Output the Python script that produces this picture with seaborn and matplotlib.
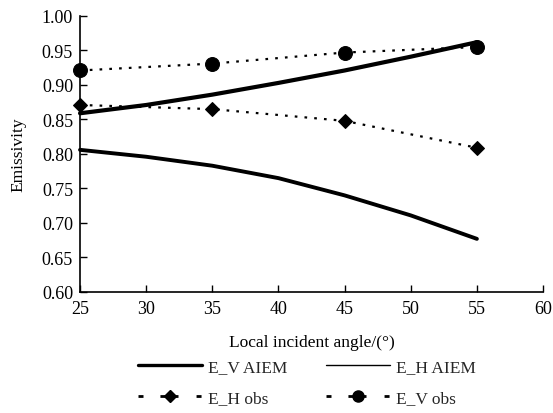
import numpy as np
import pandas as pd
import seaborn as sns
import matplotlib
matplotlib.use("Agg")
import matplotlib.pyplot as plt
from matplotlib.lines import Line2D

# ---- data ----
angle_model = [25, 30, 35, 40, 45, 50, 55]
ev_aiem = [0.859, 0.871, 0.886, 0.903, 0.921, 0.941, 0.962]
eh_aiem = [0.806, 0.796, 0.783, 0.765, 0.740, 0.711, 0.677]
angle_obs = [25, 35, 45, 55]
eh_obs = [0.871, 0.865, 0.848, 0.809]
ev_obs = [0.921, 0.931, 0.947, 0.955]
x_ticks = [25, 30, 35, 40, 45, 50, 55, 60]
y_ticks = [0.60, 0.65, 0.70, 0.75, 0.80, 0.85, 0.90, 0.95, 1.00]
labels = ["E_V AIEM", "E_H AIEM", "E_H obs", "E_V obs"]

sns.set_theme(style="ticks")
plt.rcParams['font.family'] = ['Liberation Serif', 'DejaVu Serif']

fig = plt.figure(figsize=(5.53, 4.14), dpi=100)
ax = fig.add_axes([0.1447, 0.2923, 0.8373, 0.6667])

df_m = pd.DataFrame({"angle": angle_model, "ev": ev_aiem, "eh": eh_aiem})
df_o = pd.DataFrame({"angle": angle_obs, "eh": eh_obs, "ev": ev_obs})

sns.lineplot(data=df_m, x="angle", y="ev", ax=ax, color="black", lw=3.0,
             solid_capstyle="round")
sns.lineplot(data=df_m, x="angle", y="eh", ax=ax, color="black", lw=2.8,
             solid_capstyle="round")
sns.lineplot(data=df_o, x="angle", y="eh", ax=ax, color="black", lw=1.6,
             linestyle=(0, (1.2, 3.2)), marker="D", markersize=7.5,
             markeredgecolor="black", markerfacecolor="black")
sns.lineplot(data=df_o, x="angle", y="ev", ax=ax, color="black", lw=1.6,
             linestyle=(0, (1.2, 3.2)), marker="o", markersize=10,
             markeredgecolor="black", markerfacecolor="black")

ax.set_xlim(25, 60)
ax.set_ylim(0.60, 1.00)
ax.set_xticks(x_ticks)
ax.set_yticks(y_ticks)
ax.set_xticklabels([str(t) for t in x_ticks])
ax.set_yticklabels([f"{t:.2f}" for t in y_ticks])
ax.tick_params(direction="in", length=5, width=1.0, labelsize=13, colors="black")
ax.tick_params(axis="x", pad=6)
ax.tick_params(axis="y", pad=5)
ax.set_xlabel("Local incident angle/(°)", fontsize=12.5, labelpad=12, color="black")
ax.set_ylabel("Emissivity", fontsize=12.5, labelpad=11, color="black")
sns.despine(ax=ax)
for s in ["left", "bottom"]:
    ax.spines[s].set_linewidth(1.2)
    ax.spines[s].set_color("black")
for ln in ax.lines:
    ln.set_clip_on(False)

obs_dash = (0, (1.8, 6.1, 6.5, 6.5))
h_ev = Line2D([], [], color="black", lw=2.4)
h_eh = Line2D([], [], color="black", lw=1.0)
h_eho = Line2D([], [], color="black", lw=2.0, linestyle=obs_dash, marker="D", markersize=6.5)
h_evo = Line2D([], [], color="black", lw=2.0, linestyle=obs_dash, marker="o", markersize=8)
# matplotlib fills legend columns first; order so rows read as in the reference
fig.legend([h_ev, h_eho, h_eh, h_evo], [labels[0], labels[2], labels[1], labels[3]],
           loc="upper left", bbox_to_anchor=(0.237, 0.147),
           ncol=2, frameon=False, fontsize=12.5, handlelength=3.7, handletextpad=0.35,
           columnspacing=2.2, labelspacing=0.84, borderaxespad=0)

fig.savefig("out.png", dpi=100)
